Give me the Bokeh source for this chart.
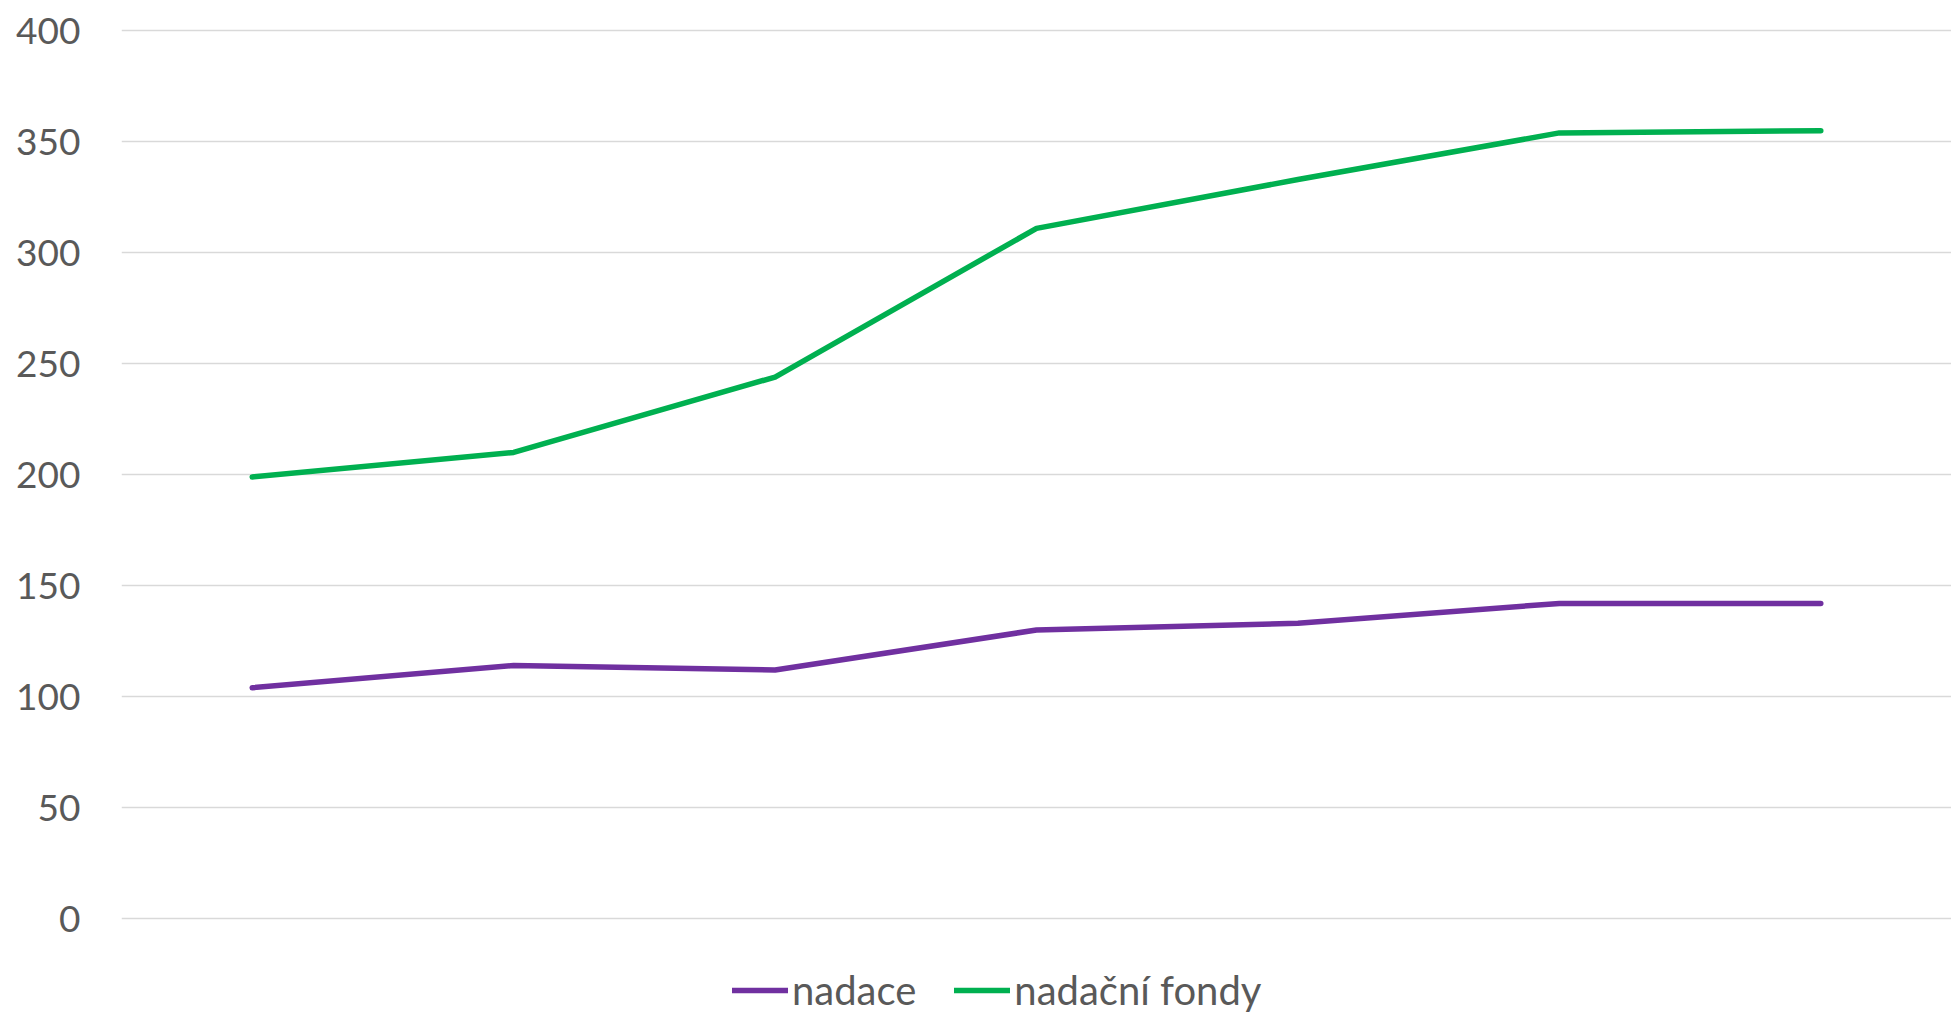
from bokeh.plotting import figure
from bokeh.models import Range1d, FixedTicker, Legend, LegendItem
from bokeh.embed import file_html
from bokeh.resources import INLINE

# data (no category labels are shown on the x axis)
points = [0, 1, 2, 3, 4, 5, 6]
nadace = [104, 114, 112, 130, 133, 142, 142]
nadacni_fondy = [199, 210, 244, 311, 333, 354, 355]
y_ticks = [0, 50, 100, 150, 200, 250, 300, 350, 400]
series_names = ["nadace", "nadační fondy"]

FONT = "Lato"
TEXT = "#595959"

# frame: y=0 at px 918, y=400 at px ~30; frame reaches page bottom so the legend sits inside it
p = figure(width=1951, height=1013, output_backend="svg", toolbar_location=None,
           x_range=Range1d(-0.5, 6.5), y_range=Range1d(-42.8, 401.5),
           x_axis_location=None,
           min_border_left=121, min_border_right=0, min_border_top=27,
           min_border_bottom=0)
p.outline_line_color = None
p.background_fill_color = "white"
p.border_fill_color = "white"
p.xgrid.visible = False

p.yaxis.ticker = FixedTicker(ticks=y_ticks)
p.yaxis.axis_line_color = None
p.yaxis.major_tick_line_color = None
p.yaxis.minor_tick_line_color = None
p.yaxis.major_tick_out = 0
p.yaxis.major_tick_in = 0
p.yaxis.major_label_standoff = 41
p.yaxis.major_label_text_font = FONT
p.yaxis.major_label_text_font_size = "37px"
p.yaxis.major_label_text_color = TEXT
p.ygrid.grid_line_color = "#D9D9D9"
p.ygrid.grid_line_width = 1.5

r1 = p.line(points, nadace, line_color="#7030A0", line_width=5.5, line_cap="round", line_join="round")
r2 = p.line(points, nadacni_fondy, line_color="#00B050", line_width=5.5, line_cap="round", line_join="round")

legend = Legend(items=[LegendItem(label=series_names[0], renderers=[r1]),
                       LegendItem(label=series_names[1], renderers=[r2])],
                orientation="horizontal", location=(611, -1),
                glyph_width=56, glyph_height=30, label_height=30, label_standoff=4, spacing=38,
                padding=0, margin=0, border_line_color=None,
                background_fill_alpha=0,
                label_text_font=FONT, label_text_font_size="40px",
                label_text_color=TEXT)
p.add_layout(legend, "center")

open("out.html", "w").write(file_html(p, INLINE))
